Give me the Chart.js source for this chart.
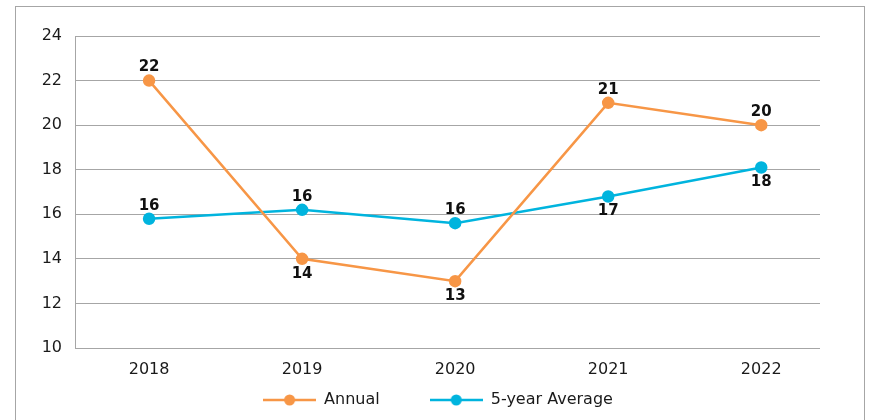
<!DOCTYPE html>
<html>
<head>
<meta charset="utf-8">
<script src="https://cdn.jsdelivr.net/npm/chart.js@4/dist/chart.umd.min.js"></script>
<style>
  html, body { margin: 0; padding: 0; background: #fff; }
  #wrap { width: 869px; height: 420px; position: relative; }
</style>
</head>
<body>
<div id="wrap"><canvas id="c" width="869" height="420"></canvas></div>
<script>
const years = ['2018', '2019', '2020', '2021', '2022'];
const annual = [22, 14, 13, 21, 20];
const fiveYearAvg = [15.8, 16.2, 15.6, 16.8, 18.1];
const annualLabelPos = ['above', 'below', 'below', 'above', 'above'];
const avgLabelPos = ['above', 'above', 'above', 'below', 'below'];
const yTicks = [10, 12, 14, 16, 18, 20, 22, 24];

const ORANGE = '#F79646';
const CYAN = '#00B4DE';
const GRID = '#A6A6A6';
const FONT = "'DejaVu Sans', sans-serif";

function legendIcon(color) {
  const c = document.createElement('canvas');
  c.width = 53; c.height = 14;
  const g = c.getContext('2d');
  g.strokeStyle = color; g.lineWidth = 2.5;
  g.beginPath(); g.moveTo(0, 7); g.lineTo(53, 7); g.stroke();
  g.fillStyle = color;
  g.beginPath(); g.arc(26.5, 7, 5.5, 0, Math.PI * 2); g.fill();
  return c;
}
const icons = [legendIcon(ORANGE), legendIcon(CYAN)];

const borderPlugin = {
  id: 'outerBorder',
  beforeDraw(chart) {
    const ctx = chart.ctx;
    ctx.save();
    ctx.strokeStyle = '#A6A6A6';
    ctx.lineWidth = 1;
    ctx.strokeRect(15.5, 6.5, 849, 600);
    ctx.restore();
  }
};

const legendPlacePlugin = {
  id: 'legendPlace',
  afterLayout(chart) {
    const l = chart.legend;
    if (!l) return;
    l.left = 56;
    l.right = 820;
    l.top = 400 - 8 - l.options.labels.padding;
  }
};

const labelPlugin = {
  id: 'pointLabels',
  afterDatasetsDraw(chart) {
    const ctx = chart.ctx;
    const posSets = [annualLabelPos, avgLabelPos];
    ctx.save();
    ctx.font = 'bold 15px ' + FONT;
    ctx.fillStyle = '#111';
    ctx.textAlign = 'center';
    ctx.textBaseline = 'middle';
    chart.data.datasets.forEach((ds, di) => {
      const meta = chart.getDatasetMeta(di);
      meta.data.forEach((pt, i) => {
        const v = Math.round(ds.data[i].y);
        const dy = posSets[di][i] === 'above' ? -13 : 15;
        ctx.fillText(String(v), pt.x, pt.y + dy);
      });
    });
    ctx.restore();
  }
};

new Chart(document.getElementById('c'), {
  type: 'line',
  data: {
    datasets: [
      {
        label: 'Annual',
        data: annual.map((v, i) => ({ x: i, y: v })),
        borderColor: ORANGE,
        backgroundColor: ORANGE,
        borderWidth: 2.5,
        pointRadius: 5,
        pointHoverRadius: 5,
        tension: 0
      },
      {
        label: '5-year Average',
        data: fiveYearAvg.map((v, i) => ({ x: i, y: v })),
        borderColor: CYAN,
        backgroundColor: CYAN,
        borderWidth: 2.5,
        pointRadius: 5,
        pointHoverRadius: 5,
        tension: 0
      }
    ]
  },
  options: {
    responsive: false,
    animation: false,
    events: [],
    layout: { padding: { top: 36, right: 49, bottom: 6, left: 0 } },
    scales: {
      x: {
        type: 'linear',
        min: -0.484,
        max: 4.384,
        grid: { display: false, drawTicks: false },
        border: { display: false },
        afterBuildTicks(scale) {
          scale.ticks = years.map((_, i) => ({ value: i }));
        },
        afterFit(scale) { scale.height = 36; },
        ticks: {
          includeBounds: false,
          padding: 12,
          color: '#1a1a1a',
          font: { family: FONT, size: 16 },
          callback: (v) => years[v] ?? ''
        }
      },
      y: {
        min: 10,
        max: 24,
        afterBuildTicks(scale) {
          scale.ticks = yTicks.map(v => ({ value: v }));
        },
        afterFit(scale) { scale.width = 75; },
        grid: { color: GRID, lineWidth: 1, drawTicks: false },
        border: { display: true, color: GRID, width: 1 },
        ticks: {
          padding: 13,
          color: '#1a1a1a',
          font: { family: FONT, size: 16 }
        }
      }
    },
    plugins: {
      legend: {
        position: 'bottom',
        maxHeight: 30,
        labels: {
          usePointStyle: true,
          pointStyleWidth: 53,
          boxHeight: 14,
          padding: 50,
          color: '#1a1a1a',
          font: { family: FONT, size: 16 },
          generateLabels(chart) {
            return chart.data.datasets.map((ds, i) => ({
              text: ds.label,
              pointStyle: icons[i],
              fillStyle: ds.borderColor,
              strokeStyle: ds.borderColor,
              lineWidth: 0,
              hidden: false,
              datasetIndex: i,
              fontColor: '#1a1a1a'
            }));
          }
        }
      },
      tooltip: { enabled: false }
    }
  },
  plugins: [borderPlugin, legendPlacePlugin, labelPlugin]
});
</script>
</body>
</html>
